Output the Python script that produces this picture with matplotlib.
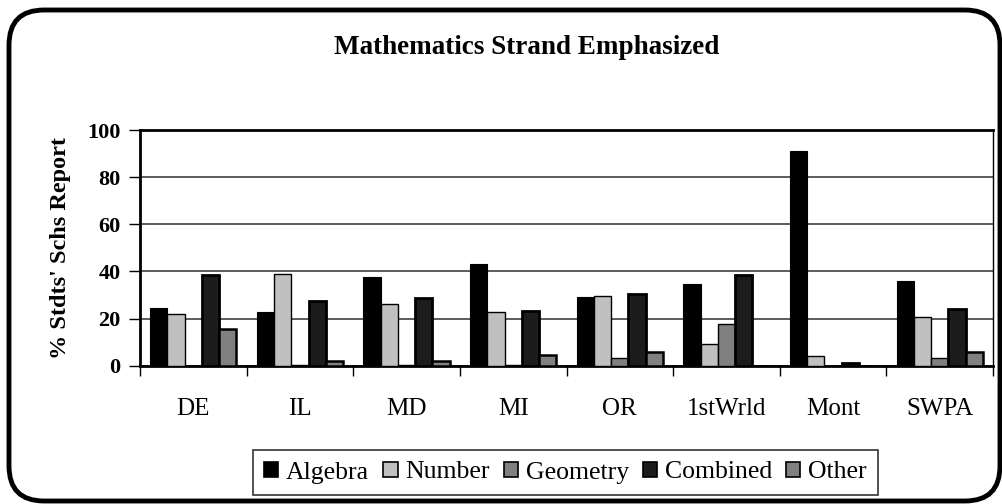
import matplotlib
matplotlib.use("Agg")
import matplotlib.pyplot as plt
import numpy as np
from matplotlib.patches import FancyBboxPatch, Patch

categories = ["DE", "IL", "MD", "MI", "OR", "1stWrld", "Mont", "SWPA"]
series_names = ["Algebra", "Number", "Geometry", "Combined", "Other"]
algebra = [24.5, 22.9, 37.5, 43.3, 29.0, 34.8, 91.0, 35.8]
number = [21.9, 39.0, 26.3, 22.8, 29.7, 9.4, 4.2, 20.5]
geometry = [0.0, 0.5, 0.5, 0.5, 3.3, 17.9, 0.0, 3.3]
combined = [38.5, 27.6, 28.6, 23.4, 30.3, 38.5, 1.0, 24.2]
other = [15.4, 2.0, 2.0, 4.5, 6.0, 0.0, 0.0, 6.0]
yticks = [0, 20, 40, 60, 80, 100]

series = [algebra, number, geometry, combined, other]
fills = ["#000000", "#c0c0c0", "#808080", "#1c1c1c", "#808080"]
edges = ["#000000", "#000000", "#000000", "#000000", "#000000"]
lws = [0.8, 1.0, 1.0, 2.0, 1.8]

plt.rcParams["font.family"] = ["Liberation Serif", "DejaVu Serif"]

fig = plt.figure(figsize=(10.02, 5.04), dpi=100)
fig.patch.set_facecolor("white")

frame = FancyBboxPatch((9 / 1002, 1 - 501 / 504), (1000 - 9) / 1002, (501 - 10) / 504,
                       boxstyle="round,pad=0,rounding_size=0.035",
                       transform=fig.transFigure, facecolor="none",
                       edgecolor="black", linewidth=3.5, clip_on=False,
                       mutation_aspect=1002 / 504)
fig.patches.append(frame)

ax = fig.add_axes([140 / 1002, 1 - 365.7 / 504, (993 - 140) / 1002, (365.7 - 130) / 504])

x = np.arange(len(categories))
w = 0.162
offsets = (np.arange(5) - 2) * w
for vals, off, fc, ec, lw, name in zip(series, offsets, fills, edges, lws, series_names):
    ax.bar(x + off, vals, width=w, color=fc, edgecolor=ec, linewidth=lw, zorder=3, label=name)

ax.set_xlim(-0.5, len(categories) - 0.5)
ax.set_ylim(0, 100)
ax.set_yticks(yticks)
ax.set_yticklabels([str(t) for t in yticks], fontsize=16, fontweight="bold")
ax.set_xticks(x)
ax.set_xticklabels(categories, fontsize=18)
ax.set_xticks(np.arange(len(categories) + 1) - 0.5, minor=True)
ax.tick_params(axis="x", which="major", length=0, pad=23)
ax.tick_params(axis="x", which="minor", length=7, width=1, direction="out")
ax.tick_params(axis="y", which="major", length=8, width=1, direction="out", pad=6)
ax.yaxis.grid(True, color="#404040", linewidth=1.2, zorder=0)
ax.set_axisbelow(True)
for s in ["left", "bottom", "top"]:
    ax.spines[s].set_linewidth(2)
ax.spines["right"].set_linewidth(1)

ax.set_ylabel("% Stdts' Schs Report", fontsize=17.5, fontweight="bold", labelpad=12)

fig.text(527 / 1002, 1 - 48 / 504, "Mathematics Strand Emphasized", ha="center", va="center",
         fontsize=19.5, fontweight="bold")

handles = [Patch(facecolor=fc, edgecolor="black", linewidth=1.2) for fc in fills]
leg = fig.legend(handles, series_names, loc="center", bbox_to_anchor=(565.5 / 1002, 1 - 472.5 / 504),
                 ncol=5, fontsize=18.5, frameon=True, fancybox=False, edgecolor="black",
                 handlelength=0.55, handleheight=0.55, handletextpad=0.3, columnspacing=0.55,
                 borderpad=0.45)
leg.get_frame().set_linewidth(1.2)

fig.savefig("out.png", dpi=100, facecolor="white")
